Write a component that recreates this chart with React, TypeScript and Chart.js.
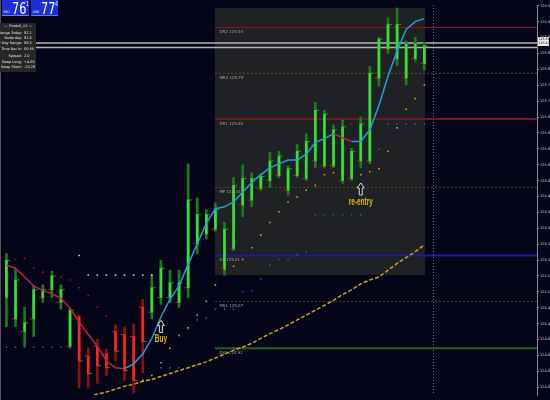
import React, { useEffect, useRef } from 'react';
import { Chart, registerables } from 'chart.js';
Chart.register(...registerables);

// ---- data (price levels in chart units; 16.3 units = 0.05 price) ----
const highs = [145,130,90,112,113,127,113,88,82,48, 57,47,72,70,73,98,123,138,128,128, 237,202,190,197,177,223,236,228,227,249, 250,235,257,268,300,292,277,282,253,285, 337,367,387,397,363,367,362];
const lows = [70,70,50,60,95,100,88,48,7,7, 12,20,35,15,2,23,78,93,95,90, 100,145,160,168,123,148,183,193,210,213, 223,205,223,220,233,233,233,217,220,233, 237,317,350,338,318,342,333];
const opens = [100,78,65,78,100,108,95,50,80,40, 50,42,65,62,60,90,85,100,100,95, 110,155,165,170,130,150,195,200,212,220, 225,210,225,222,240,235,235,220,222,240, 240,325,355,345,325,345,340];
const closes = [138,118,74,108,108,122,108,87,35,22, 30,28,45,25,15,55,110,130,115,115, 200,185,185,190,170,215,222,222,224,240, 245,232,250,260,292,288,272,275,250,278, 330,365,380,380,360,360,358];

const fastMA = [133,130,121,112,107,104,99,89,75,62, 50,35,28,27,32,42,58,80,98,112, 134,155,176,191,193,198,208,218,226,233, 237,241,241,247,259,263,268,264,260,260, 272,297,327,353,375,383,386];
const slowMAStart = 9;
const slowMA = [-2,1,3,6,9,11,14,16,19,22,25,28,31,34,38,42,46,49,53,58,63,67,72,77,82,87,92,97,103,108,114,118,121,128,135,141,147,154];

const redDots = [null,139,140,130,126,124,121,118,110,102,90,81,70, null,null,null,null,null,null,null,null,null,null,null,null,null,null,null,null,null,null,null,null,null,null,null,null,null, 278, null,null,null,null,null,null,null,null];
const whiteDotStart = 8;
const whiteDots = [143,123,123,123,123,123,123,123,123];
const yellowDotStart = 15;
const yellowDots = [15,20,33,48,61,69,82,96,113,129,132,139,151,164,177,188,198,203,210,215,226,228,229,229,226,229,232,250,274,293,304,318];
const blueDots = [49,49,49,49,49,49,49,49, null,null,null,null,null,null,null,null,null, 28,28,28, 68,77,79,88,88,88,106,107,119,133,139,139,144,147, 185,185,185,185,185,185, null, 252, 278,278,278,278,278];

const pivotNames = ['DR2 125.93','MR2 125.79','DR1 125.64','MP 125.43','DP 125.21','MS1 125.07','DS1 124.92'];
const pivotLevels = [377, 330, 283, 213, 143, 96, 48];
const bidLevel = 361;
const askLevel = 356.5;

const sessionStartBar = 23;
const sessionEndBar = 46;
const dayHigh = 397;
const dayLow = 123;
const nowBar = 47;

const signalBars = [17, 39];
const signalLevels = [57, 198];
const signalTexts = ['Buy', 're-entry'];

const yTickLabels = ['124.80','124.85','124.90','124.95','125.00','125.05','125.10','125.15','125.20','125.25','125.30','125.35','125.40','125.45','125.50','125.55','125.60','125.65','125.70','125.75','125.80','125.85','125.90','125.95','126.00'];
const firstTickLevel = 8;
const tickSpacing = 16.3;

const panelLabels = ['Range Today:','Yesterday:','20 Day Range:','Time Bar Is:','Spread:','Swap Long:','Swap Short:'];
const panelValues = ['82.1','81.5','89.5','00:55','2.0','+4.65','-10.28'];
const bidText = '76';
const bidSup = '1';
const askText = '77';
const askSup = '4';

// ---- styles ----
const BG = '#05051a';
const pivotColors = ['#8a1c1c','#6a4c1a','#7a1424','#5a4622','#1c1ca0','#4a4a1c','#1c641c'];
const pivotWidths = [1, 1, 2, 1, 2, 1, 2];
const pivotDashed = [false, true, false, true, false, true, false];

const xMin = -0.16;
const xMax = 58.4;

function drawArrow(ctx: CanvasRenderingContext2D, cx: number, top: number, bottom: number) {
  ctx.beginPath();
  ctx.moveTo(cx, top);
  ctx.lineTo(cx + 3.5, top + 5);
  ctx.lineTo(cx + 1.5, top + 5);
  ctx.lineTo(cx + 1.5, bottom);
  ctx.lineTo(cx - 1.5, bottom);
  ctx.lineTo(cx - 1.5, top + 5);
  ctx.lineTo(cx - 3.5, top + 5);
  ctx.closePath();
  ctx.fillStyle = '#101018';
  ctx.fill();
  ctx.strokeStyle = '#e0e0e0';
  ctx.lineWidth = 1;
  ctx.stroke();
}

const overlay = {
  id: 'overlay',
  beforeDraw(chart: any) {
    const ctx = chart.ctx;
    ctx.save();
    ctx.fillStyle = BG;
    ctx.fillRect(0, 0, chart.width, chart.height);
    ctx.restore();
  },
  beforeDatasetsDraw(chart: any) {
    const ctx = chart.ctx;
    const xs = chart.scales.x, ys = chart.scales.y;
    ctx.save();
    const x0 = xs.getPixelForValue(sessionStartBar - 0.05);
    const x1 = xs.getPixelForValue(sessionEndBar + 0.08);
    const y0 = ys.getPixelForValue(dayHigh);
    const y1 = ys.getPixelForValue(dayLow);
    ctx.fillStyle = '#1f2125';
    ctx.fillRect(x0, y0, x1 - x0, y1 - y0);
    // now line
    const nx = Math.round(xs.getPixelForValue(nowBar)) + 0.5;
    ctx.strokeStyle = '#7a7a7a';
    ctx.lineWidth = 1;
    ctx.setLineDash([1, 2]);
    ctx.beginPath();
    ctx.moveTo(nx, chart.chartArea.top);
    ctx.lineTo(nx, chart.chartArea.bottom);
    ctx.stroke();
    ctx.setLineDash([]);
    // left border
    ctx.strokeStyle = '#555';
    ctx.beginPath();
    ctx.moveTo(0.5, 0);
    ctx.lineTo(0.5, chart.height);
    ctx.stroke();
    ctx.restore();
  },
  afterDatasetsDraw(chart: any) {
    const ctx = chart.ctx;
    const xs = chart.scales.x, ys = chart.scales.y;
    ctx.save();
    // pivot labels
    ctx.font = '4px "DejaVu Sans"';
    ctx.textBaseline = 'middle';
    ctx.textAlign = 'left';
    ctx.fillStyle = '#a0a0a0';
    const lx = xs.getPixelForValue(sessionStartBar) + 4;
    pivotLevels.forEach((lv, k) => {
      ctx.fillText(pivotNames[k], lx, ys.getPixelForValue(lv) + 4.5);
    });
    // signals
    signalBars.forEach((b, k) => {
      const cx = xs.getPixelForValue(b);
      const cy = ys.getPixelForValue(signalLevels[k]);
      drawArrow(ctx, cx, cy - 19, cy - 7);
      ctx.save();
      ctx.translate(cx, cy);
      ctx.scale(0.65, 1);
      ctx.font = 'bold 10px "Liberation Sans"';
      ctx.textAlign = 'center';
      ctx.textBaseline = 'middle';
      ctx.fillStyle = '#e6b800';
      ctx.fillText(signalTexts[k], 0, 0);
      ctx.restore();
    });
    ctx.restore();
  },
  afterDraw(chart: any) {
    const ctx = chart.ctx;
    ctx.save();
    // bid / ask boxes
    const boxes = [[2, 'BID', bidText, bidSup], [31, 'ASK', askText, askSup]] as const;
    boxes.forEach(([bx, small, big, sup]) => {
      ctx.fillStyle = '#1b2fd8';
      ctx.fillRect(bx as number, 0, 27, 16);
      ctx.fillStyle = '#6a78ff';
      ctx.fillRect(bx as number, 15, 27, 1);
      ctx.fillStyle = '#e8ecff';
      ctx.font = '3.5px "DejaVu Sans"';
      ctx.textBaseline = 'alphabetic';
      ctx.textAlign = 'left';
      ctx.fillText(small as string, (bx as number) + 1.5, 13);
      ctx.save();
      ctx.translate((bx as number) + 10, 14);
      ctx.scale(0.7, 1);
      ctx.font = '16px "DejaVu Sans"';
      ctx.fillStyle = '#ffffff';
      ctx.fillText(big as string, 0, 0);
      ctx.font = '7px "DejaVu Sans"';
      ctx.fillText(sup as string, 20, -8);
      ctx.restore();
    });
    // info panel
    ctx.fillStyle = '#262626';
    ctx.fillRect(0, 23, 36, 49);
    ctx.fillStyle = '#e6e6e6';
    ctx.font = '3.5px "DejaVu Sans"';
    ctx.textBaseline = 'middle';
    ctx.textAlign = 'center';
    ctx.fillText('\u2014 Pivots5_v1 \u2014', 18, 26);
    const rows = [33, 38, 43.5, 49, 56, 62, 67];
    panelLabels.forEach((lab, k) => {
      ctx.textAlign = 'right';
      ctx.fillText(lab, 22, rows[k]);
      ctx.textAlign = 'left';
      ctx.fillText(panelValues[k], 24, rows[k]);
    });
    // current price box
    ctx.fillStyle = '#e8e8e8';
    ctx.fillRect(538, 37, 11, 9);
    ctx.fillStyle = '#202020';
    ctx.font = '3.2px "DejaVu Sans"';
    ctx.textAlign = 'left';
    ctx.fillText('125.88', 538.5, 39.5);
    ctx.fillText('125.87', 538.5, 43.5);
    ctx.restore();
  },
};

export default function App() {
  const ref = useRef<HTMLCanvasElement>(null);
  useEffect(() => {
    document.body.style.margin = '0';
    document.body.style.background = BG;
    const bull = opens.map((o, i) => closes[i] >= o);
    const wickData = highs.map((h, i) => ({ x: i, y: [lows[i], h] }));
    const bodyData = opens.map((o, i) => ({ x: i, y: [o, closes[i]] }));
    const openTicks = opens.map((o, i) => ({ x: i - 0.25, y: o }));
    const closeTicks = closes.map((c, i) => ({ x: i + 0.25, y: c }));
    const fast = fastMA.map((v, i) => ({ x: i, y: v }));
    const slow = slowMA.map((v, i) => ({ x: i + slowMAStart, y: v }));
    const pts = (arr: (number | null)[], start: number) =>
      arr.map((v, i) => (v === null ? null : { x: i + start, y: v })).filter(Boolean);

    const lineDs = (lv: number, from: number, color: string, width: number, dashed: boolean, order: number) => ({
      type: 'line',
      data: [{ x: from, y: lv }, { x: xMax, y: lv }],
      borderColor: color,
      borderWidth: width,
      borderDash: dashed ? [2, 2] : [],
      pointRadius: 0,
      order,
    });

    const dotDs = (data: any[], color: string, order: number) => ({
      type: 'line',
      data,
      showLine: false,
      pointStyle: 'rect',
      pointRadius: 1.1,
      pointBorderWidth: 0,
      pointBackgroundColor: color,
      order,
    });

    const datasets: any[] = [
      ...pivotLevels.map((lv, k) => lineDs(lv, sessionStartBar - 0.05, pivotColors[k], pivotWidths[k], pivotDashed[k], 20)),
      lineDs(bidLevel, xMin, '#b4b4b4', 1.5, false, 19),
      lineDs(askLevel, xMin, '#b4b4b4', 1.5, false, 19),
      {
        type: 'line',
        data: slow,
        borderColor: '#c9a21a',
        borderWidth: 1.5,
        borderDash: [4, 2],
        pointRadius: 0,
        order: 15,
      },
      {
        type: 'bar',
        data: wickData,
        backgroundColor: bull.map((b) => (b ? '#1e7a1e' : '#8c1010')),
        barThickness: 2,
        grouped: false,
        order: 12,
      },
      {
        type: 'bar',
        data: bodyData,
        backgroundColor: bull.map((b) => (b ? '#33e033' : '#ff2020')),
        barThickness: 2,
        grouped: false,
        order: 11,
      },
      {
        type: 'line',
        data: openTicks,
        showLine: false,
        pointStyle: 'line',
        pointRadius: 1.5,
        pointBorderWidth: 1,
        pointBorderColor: '#d01818',
        order: 10,
      },
      {
        type: 'line',
        data: closeTicks,
        showLine: false,
        pointStyle: 'line',
        pointRadius: 1.5,
        pointBorderWidth: 1,
        pointBorderColor: '#2a9a2a',
        order: 10,
      },
      dotDs(pts(redDots, 0), '#b81414', 8),
      dotDs(pts(whiteDots, whiteDotStart), '#d8d8d8', 8),
      dotDs(pts(yellowDots, yellowDotStart), '#d6b20a', 8),
      dotDs(pts(blueDots, 0), '#3050d0', 8),
      {
        type: 'line',
        data: fast,
        borderWidth: 1.5,
        borderColor: '#1ea0d8',
        segment: {
          borderColor: (c: any) => (c.p1.parsed.y < c.p0.parsed.y ? '#c41e40' : '#1ea0d8'),
        },
        pointRadius: 0,
        order: 5,
      },
    ];

    const chart = new Chart(ref.current as HTMLCanvasElement, {
      type: 'bar',
      data: { datasets },
      options: {
        animation: false,
        responsive: false,
        devicePixelRatio: 1,
        events: [],
        layout: { padding: 0 },
        plugins: { legend: { display: false }, tooltip: { enabled: false } },
        scales: {
          x: { type: 'linear', min: xMin, max: xMax, offset: false, display: false },
          y: {
            type: 'linear',
            position: 'right',
            min: 0,
            max: 400,
            afterFit(s: any) {
              s.width = 13;
              s.paddingTop = 0;
              s.paddingBottom = 0;
            },
            afterBuildTicks(s: any) {
              s.ticks = yTickLabels.map((_, k) => ({ value: firstTickLevel + k * tickSpacing }));
            },
            ticks: {
              callback: (_v: any, idx: number) => yTickLabels[idx],
              color: '#cfcfcf',
              font: { size: 3.5, family: 'DejaVu Sans' },
              padding: 1,
              autoSkip: false,
              maxRotation: 0,
            },
            grid: { drawOnChartArea: false, drawTicks: true, tickLength: 2, color: '#8a8a8a' },
            border: { display: true, color: '#8a8a8a', width: 1 },
          },
        },
      } as any,
      plugins: [overlay],
    } as any);
    return () => chart.destroy();
  }, []);
  return <canvas ref={ref} width={550} height={400} style={{ display: 'block' }} />;
}
